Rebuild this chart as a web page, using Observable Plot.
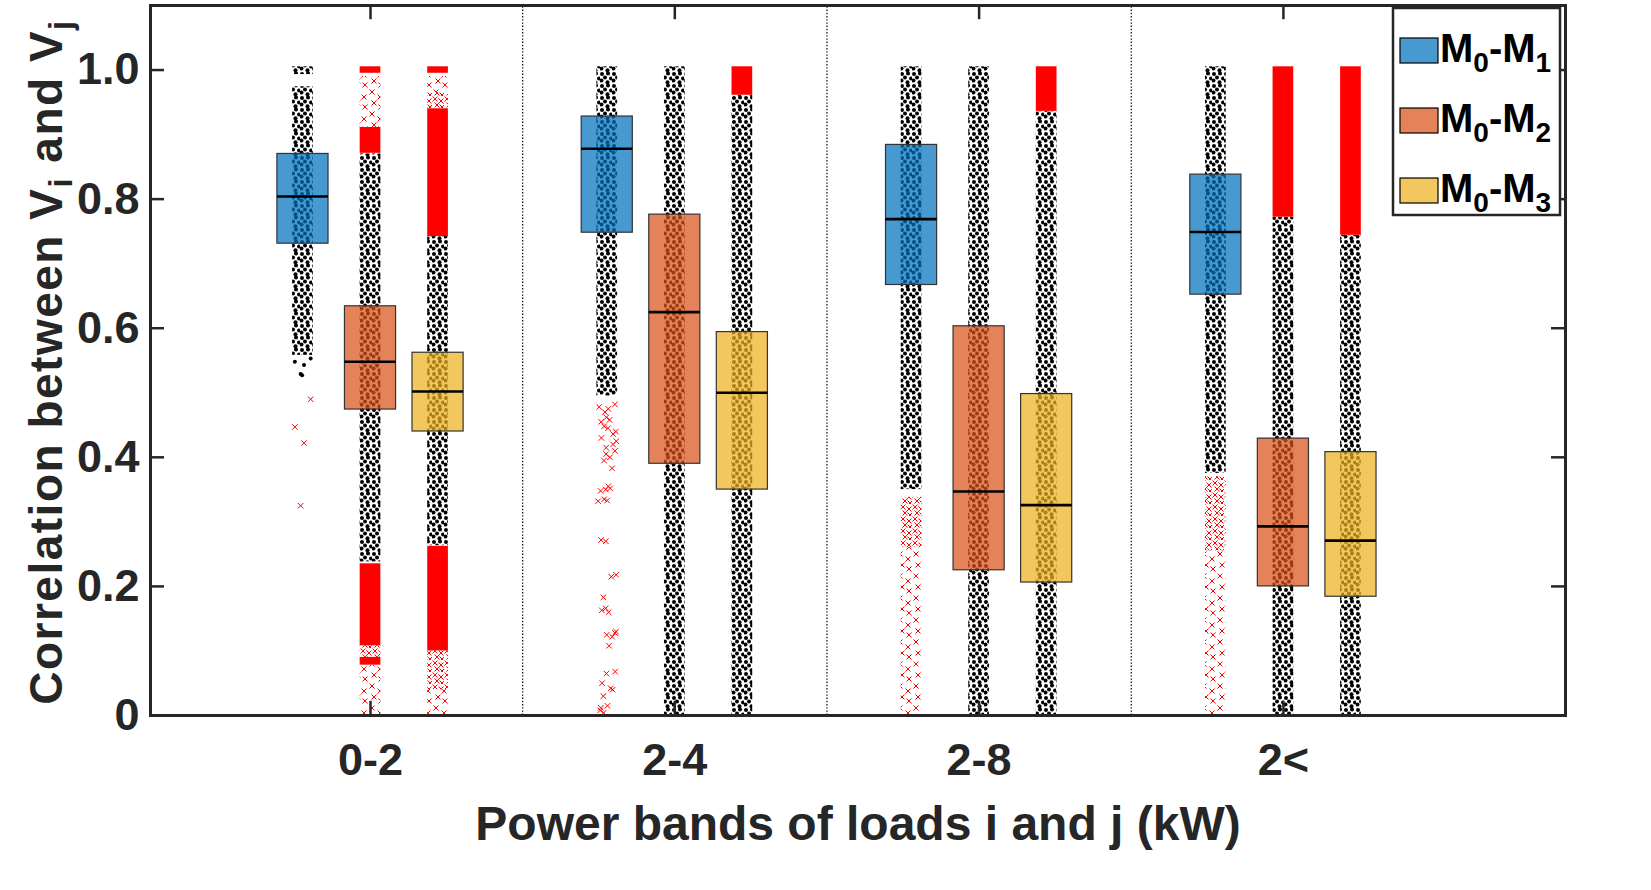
<!DOCTYPE html>
<html><head><meta charset="utf-8">
<script src="https://cdn.jsdelivr.net/npm/d3@7"></script>
<script src="https://cdn.jsdelivr.net/npm/@observablehq/plot@0.6"></script>
<style>body{margin:0;background:#fff;}#chart{position:relative;width:1651px;height:890px;}</style>
</head><body><div id="chart"></div>
<script>
// ---------- data ----------
const bands = ["0-2", "2-4", "2-8", "2<"];
const models = ["M0-M1", "M0-M2", "M0-M3"];
const yTicks = [0, 0.2, 0.4, 0.6, 0.8, 1.0];

// box statistics per model (one value per band)
const q1_M01 = [0.731, 0.748, 0.667, 0.652];
const med_M01 = [0.804, 0.878, 0.769, 0.749];
const q3_M01 = [0.870, 0.928, 0.884, 0.838];
const q1_M02 = [0.474, 0.390, 0.225, 0.200];
const med_M02 = [0.548, 0.625, 0.347, 0.293];
const q3_M02 = [0.634, 0.776, 0.603, 0.429];
const q1_M03 = [0.440, 0.350, 0.206, 0.184];
const med_M03 = [0.502, 0.500, 0.326, 0.271];
const q3_M03 = [0.562, 0.594, 0.498, 0.408];

// range covered by the (black) inlier points
const inLo_M01 = [0.558, 0.495, 0.350, 0.375];
const inHi_M01 = [0.974, 1.0, 1.0, 1.0];
const inLo_M02 = [0.238, 0, 0, 0];
const inHi_M02 = [0.870, 1.0, 1.0, 0.772];
const inLo_M03 = [0.263, 0, 0, 0];
const inHi_M03 = [0.742, 0.961, 0.936, 0.744];
const extraBlack = [["0-2", "M0-M1", 0.993, 1.0]];
const blackSingles = [["0-2", "M0-M1", [0.553, 0.548, 0.543, 0.529, 0.527]]];

// outliers (red crosses): dense bands, medium / sparse bands, single points
const redDense = [
  ["0-2", "M0-M2", 0.995, 1.0], ["0-2", "M0-M2", 0.871, 0.911], ["0-2", "M0-M2", 0.108, 0.235], ["0-2", "M0-M2", 0.078, 0.090],
  ["0-2", "M0-M3", 0.995, 1.0], ["0-2", "M0-M3", 0.742, 0.940], ["0-2", "M0-M3", 0.100, 0.262],
  ["2-4", "M0-M3", 0.961, 1.0], ["2-8", "M0-M3", 0.936, 1.0],
  ["2<", "M0-M2", 0.772, 1.0], ["2<", "M0-M3", 0.744, 1.0]
];
const redMedium = [
  ["0-2", "M0-M3", 0.040, 0.100], ["0-2", "M0-M3", 0.940, 0.965], ["0-2", "M0-M2", 0.090, 0.108],
  ["2-8", "M0-M1", 0.260, 0.338], ["2<", "M0-M1", 0.255, 0.370]
];
const redSparse = [
  ["0-2", "M0-M2", 0.911, 0.990], ["0-2", "M0-M2", 0.0, 0.078], ["0-2", "M0-M3", 0.965, 0.990], ["0-2", "M0-M3", 0.0, 0.040],
  ["2-8", "M0-M1", 0.0, 0.260], ["2<", "M0-M1", 0.0, 0.255]
];
const redSingles = [
  ["0-2", "M0-M1", [0.490, 0.447, 0.422, 0.325]],
  ["2-4", "M0-M1", [0.482, 0.478, 0.475, 0.470, 0.462, 0.458, 0.455, 0.448, 0.445, 0.440, 0.436, 0.430, 0.425, 0.420, 0.415,
    0.410, 0.405, 0.400, 0.395, 0.383, 0.355, 0.352, 0.350, 0.348, 0.335, 0.333, 0.332, 0.272, 0.270, 0.218, 0.215, 0.183,
    0.166, 0.163, 0.160, 0.130, 0.128, 0.125, 0.122, 0.108, 0.068, 0.065, 0.050, 0.042, 0.040, 0.030, 0.015, 0.012, 0.008, 0.004]]
];

// ---------- build tables ----------
const boxCols = {"M0-M1": [q1_M01, med_M01, q3_M01], "M0-M2": [q1_M02, med_M02, q3_M02], "M0-M3": [q1_M03, med_M03, q3_M03]};
const inCols = {"M0-M1": [inLo_M01, inHi_M01], "M0-M2": [inLo_M02, inHi_M02], "M0-M3": [inLo_M03, inHi_M03]};
const colors = {"M0-M1": "#0072BD", "M0-M2": "#D95319", "M0-M3": "#EDB120"};
const modelOffset = [-0.222, 0, 0.222];
const pos = (b, m) => bands.indexOf(b) + 1 + modelOffset[models.indexOf(m)];
const boxHW = 0.084, stripHW = 0.034;

const boxes = [], strips = [];
for (const m of models) bands.forEach((b, i) => {
  boxes.push({band: b, model: m, q1: boxCols[m][0][i], med: boxCols[m][1][i], q3: boxCols[m][2][i]});
  strips.push({band: b, model: m, lo: inCols[m][0][i], hi: inCols[m][1][i]});
});
for (const [b, m, lo, hi] of extraBlack) strips.push({band: b, model: m, lo, hi});
const toRange = arr => arr.map(([b, m, lo, hi]) => ({band: b, model: m, lo, hi}));
// deterministic horizontal spread of single markers inside their strip (layout only)
const jitter = i => { const s = Math.sin((i + 1) * 12.9898) * 43758.5453; return (s - Math.floor(s) - 0.5) * 0.06; };
const singles = src => src.flatMap(([b, m, vals]) => vals.map((v, i) => ({band: b, model: m, v, x: pos(b, m) + jitter(i)})));

const pad = v => (v >= 1 ? v + 0.005 : v);
const rectOpts = (hw) => ({x1: d => pos(d.band, d.model) - hw, x2: d => pos(d.band, d.model) + hw, y1: "lo", y2: d => pad(d.hi)});

const x0 = 0.277, x1 = 4.927, yMax = 1.1;
const ink = "#262626";
const FONT = "Liberation Sans, Arial, sans-serif";

const plot = Plot.plot({
  width: 1651, height: 890,
  marginLeft: 150, marginRight: 86, marginTop: 5, marginBottom: 175,
  x: {domain: [x0, x1], axis: null},
  y: {domain: [0, yMax], axis: null},
  style: {fontFamily: FONT, background: "#fff"},
  marks: [
    Plot.rect(strips, {...rectOpts(stripHW), fill: "url(#dots)"}),
    Plot.dot(singles(blackSingles), {x: "x", y: "v", r: 2, fill: "#000"}),
    Plot.rect(toRange(redSparse), {...rectOpts(stripHW), fill: "url(#xsparse)"}),
    Plot.rect(toRange(redMedium), {...rectOpts(stripHW), fill: "url(#xmedium)"}),
    Plot.rect(toRange(redDense), {...rectOpts(stripHW), fill: "#ff0000"}),
    Plot.dot(singles(redSingles), {x: "x", y: "v", r: 2.6, symbol: "times", stroke: "#ff0000", strokeWidth: 1}),
    Plot.rect(boxes, {x1: d => pos(d.band, d.model) - boxHW, x2: d => pos(d.band, d.model) + boxHW, y1: "q1", y2: "q3",
      fill: d => colors[d.model], fillOpacity: 0.72, stroke: "#333", strokeWidth: 1.2}),
    Plot.ruleY(boxes, {y: "med", x1: d => pos(d.band, d.model) - boxHW, x2: d => pos(d.band, d.model) + boxHW, stroke: "#000", strokeWidth: 2.6}),
    Plot.ruleX(bands.slice(1), {x: (d, i) => i + 1.5, y1: 0, y2: yMax, stroke: "#000", strokeWidth: 1.2, strokeDasharray: "1.4,1.8"}),
    // ticks
    Plot.ruleY(yTicks, {y: d => d, x1: x0, x2: x0 + 0.046, stroke: ink, strokeWidth: 2.5}),
    Plot.ruleY(yTicks, {y: d => d, x1: x1 - 0.046, x2: x1, stroke: ink, strokeWidth: 2.5}),
    Plot.ruleX(bands, {x: (d, i) => i + 1, y1: 0, y2: 0.022, stroke: ink, strokeWidth: 2.5}),
    Plot.ruleX(bands, {x: (d, i) => i + 1, y1: yMax - 0.022, y2: yMax, stroke: ink, strokeWidth: 2.5}),
    Plot.frame({stroke: ink, strokeWidth: 3}),
    // tick labels
    Plot.text(yTicks, {x: x0, y: d => d, text: d => d === 0 ? "0" : d.toFixed(1), textAnchor: "end", dx: -11,
      fontSize: 45, fontWeight: "bold", fill: ink}),
    Plot.text(bands, {x: (d, i) => i + 1, y: 0, text: d => d, dy: 45, fontSize: 45, fontWeight: "bold", fill: ink}),
    Plot.text(["Power bands of loads i and j (kW)"], {x: (x0 + x1) / 2, y: 0, text: d => d, dy: 109, fontSize: 48,
      fontWeight: "bold", fill: ink, letterSpacing: 1})
  ]
});

const svg = d3.select(plot);
const defs = svg.insert("defs", ":first-child");
const pd = defs.append("pattern").attr("id", "dots").attr("patternUnits", "userSpaceOnUse").attr("width", 12).attr("height", 12);
[[2, 2], [8, 1.5], [5, 5.5], [11, 6.5], [1.5, 8.5], [7.5, 10.2]].forEach(([cx, cy]) =>
  pd.append("circle").attr("cx", cx).attr("cy", cy).attr("r", 2.0).attr("fill", "#000"));
const xPat = (id, w, h, pts) => {
  const p = defs.append("pattern").attr("id", id).attr("patternUnits", "userSpaceOnUse").attr("width", w).attr("height", h);
  pts.forEach(([cx, cy]) => p.append("path").attr("d", `M${cx - 2.5},${cy - 2.5}l5,5m0,-5l-5,5`).attr("stroke", "#ff0000").attr("stroke-width", 1).attr("fill", "none"));
};
xPat("xsparse", 16, 22, [[4, 4], [12, 9], [6, 15], [13, 19]]);
xPat("xmedium", 12, 12, [[3, 3], [9, 5], [5, 9], [10, 11]]);

// y-axis title with subscripts
const yt = svg.append("text").attr("transform", "translate(62,362) rotate(-90)").attr("text-anchor", "middle")
  .attr("font-size", 46).attr("font-weight", "bold").attr("fill", ink).attr("font-family", FONT).attr("letter-spacing", 1.5);
yt.append("tspan").text("Correlation between V");
yt.append("tspan").text("i").attr("font-size", 33).attr("dy", 10);
yt.append("tspan").text(" and V").attr("dy", -10);
yt.append("tspan").text("j").attr("font-size", 33).attr("dy", 10);

// legend
const lg = svg.append("g").attr("font-family", FONT).attr("font-weight", "bold").attr("fill", "#000").attr("text-anchor", "start");
lg.append("rect").attr("x", 1393).attr("y", 8).attr("width", 167).attr("height", 207).attr("fill", "#fff").attr("stroke", ink).attr("stroke-width", 2.5);
models.forEach((m, i) => {
  const cy = 50 + i * 70;
  lg.append("rect").attr("x", 1400).attr("y", cy - 12).attr("width", 38).attr("height", 25)
    .attr("fill", colors[m]).attr("fill-opacity", 0.72).attr("stroke", "#000").attr("stroke-width", 1.2);
  const [a, b] = m.split("-");
  const t = lg.append("text").attr("x", 1440).attr("y", cy + 12).attr("font-size", 40).attr("text-anchor", "start");
  t.append("tspan").text(a[0]);
  t.append("tspan").text(a.slice(1)).attr("font-size", 28).attr("dy", 10);
  t.append("tspan").text("-" + b[0]).attr("dy", -10);
  t.append("tspan").text(b.slice(1)).attr("font-size", 28).attr("dy", 10);
});

document.getElementById("chart").appendChild(plot);
</script>
</body></html>
